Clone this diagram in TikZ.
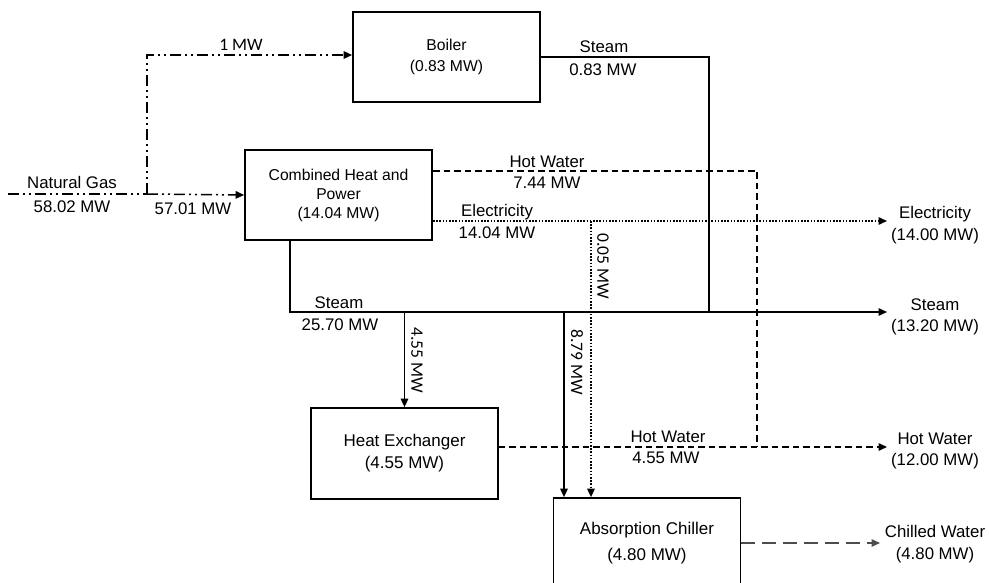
\documentclass[tikz,border=0pt]{standalone}
\usepackage{fontspec}
\setmainfont{Liberation Sans}
\newfontfamily\calib{Carlito}
\usetikzlibrary{arrows.meta}
\begin{document}
\begin{tikzpicture}[x=1pt,y=-1pt,
  box/.style={draw,line width=1.7pt,minimum width=187pt,minimum height=90pt,align=center,inner sep=0pt},
  lbl/.style={inner sep=0pt,font=\fontsize{16.8}{19}\selectfont},
  outlbl/.style={inner sep=0pt,align=center,font=\fontsize{16.8}{21.5}\selectfont},
  clbl/.style={inner sep=0pt,font=\calib\fontsize{17.5}{20}\selectfont},
  flow/.style={line width=1.5pt},
  tip/.style={-{Triangle[length=8.5pt,width=7.5pt]}},
  gas/.style={flow,dash pattern=on 11pt off 4pt on 2pt off 4pt on 2pt off 4pt},
  hw/.style={flow,dash pattern=on 6.5pt off 4pt},
  el/.style={flow,dash pattern=on 1.6pt off 1.6pt},
  cw/.style={flow,draw=gray!60!black,dash pattern=on 14pt off 7pt}]
\useasboundingbox (0,0) rectangle (989,583);
\clip (0,0) rectangle (989,583);
% boxes
\node[box,font=\fontsize{15.7}{21}\selectfont] (boiler) at (446.5,57) {Boiler\\(0.83 MW)};
\node[box,font=\fontsize{15.7}{19}\selectfont] (chp) at (338.5,195) {Combined Heat and\\Power\\(14.04 MW)};
\node[box,minimum height=91pt,font=\fontsize{17}{22}\selectfont] (hx) at (404.5,453.5) {Heat Exchanger\\(4.55 MW)};
\node[box,font=\fontsize{17}{26}\selectfont] (ac) at (647,543) {Absorption Chiller\\(4.80 MW)};
% coordinates
\coordinate (g0) at (8,194);
\coordinate (gs) at (147,194);
\coordinate (gt) at (147,55);
\coordinate (s0) at (290,240);
\coordinate (s1) at (290,312);
\coordinate (steamend) at (887,312);
\coordinate (bj) at (709,312);
\coordinate (hxj) at (404.5,312);
\coordinate (acj) at (564,312);
\coordinate (e0) at (433,221);
\coordinate (ej) at (591,221);
\coordinate (elend) at (887,221);
\coordinate (h0) at (433,171);
\coordinate (hwj) at (757,447);
\coordinate (hwend) at (887,447);
\coordinate (cwend) at (880,543);
% natural gas
\draw[gas] (g0) -- (gs);
\draw[gas,tip] (gs) -- (chp.west);
\draw[gas,tip] (gs) -- (gt) -- (boiler.west |- gt);
% steam
\draw[flow,tip] (s0) -- (s1) -- (steamend);
\draw[flow] (boiler.east) -| (bj);
\draw[flow,tip] (hxj) -- (hx.north);
\draw[flow,tip] (acj) -- (acj |- ac.north);
% electricity
\draw[el,tip] (e0) -- (elend);
\draw[el,tip] (ej) -- (ej |- ac.north);
% hot water
\draw[hw] (h0) -| (hwj);
\draw[hw,tip] (hx.east |- hwend) -- (hwend);
% chilled water
\draw[cw,tip] (ac.east) -- (cwend);
% labels
\node[lbl] (ngl) at (72,182) {Natural Gas};
\node[lbl] (ngv) at (72,207) {58.02 MW};
\node[lbl] (chpin) at (193,209) {57.01 MW};
\node[clbl] (boilin) at (241,45) {1 MW};
\node[lbl] (bsl) at (604,47) {Steam};
\node[lbl] (bsv) at (603,70) {0.83 MW};
\node[lbl] (hwl) at (547,162) {Hot Water};
\node[lbl] (hwv) at (547,183) {7.44 MW};
\node[lbl] (ell) at (497,212) {Electricity};
\node[lbl] (elv) at (497,233) {14.04 MW};
\node[lbl] (stl) at (339,303) {Steam};
\node[lbl] (stv) at (340,325) {25.70 MW};
\node[clbl,rotate=-90] (hxv) at (417,360) {4.55 MW};
\node[clbl,rotate=-90] (acv) at (577,362) {8.79 MW};
\node[clbl,rotate=-90] (elac) at (603,266) {0.05 MW};
\node[lbl] (hxhl) at (668,437) {Hot Water};
\node[lbl] (hxhv) at (666,458) {4.55 MW};
\node[outlbl] (elout) at (935,225) {Electricity\\(14.00 MW)};
\node[outlbl] (stout) at (935,317) {Steam\\(13.20 MW)};
\node[outlbl] (hwout) at (935,451) {Hot Water\\(12.00 MW)};
\node[outlbl] (cwout) at (935,544) {Chilled Water\\(4.80 MW)};
\end{tikzpicture}
\end{document}
